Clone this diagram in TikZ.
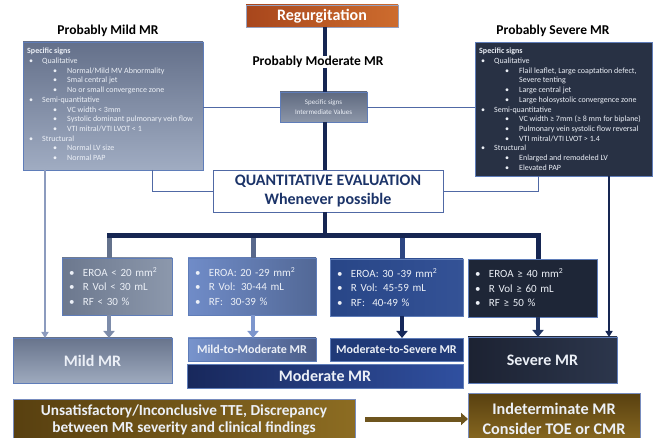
\documentclass[tikz,border=0pt]{standalone}
\usepackage{fontspec}
\setmainfont{Carlito}
\usetikzlibrary{arrows.meta,calc}
\definecolor{navy}{RGB}{22,38,82}
\definecolor{thinln}{RGB}{80,105,165}
\definecolor{bord}{RGB}{95,125,185}
\definecolor{txtw}{RGB}{236,240,247}
\definecolor{qtxt}{RGB}{28,52,105}
\definecolor{sevcol}{RGB}{40,49,68}
\definecolor{dark}{RGB}{30,38,55}
\definecolor{brownA}{RGB}{88,64,16}
\definecolor{brownB}{RGB}{140,108,34}
\newcommand\bulA[1]{\hspace*{2pt}\makebox[13pt][l]{\textbullet}#1}
\newcommand\bulB[1]{\hspace*{26pt}\makebox[14pt][l]{\textbullet}#1}
\newcommand\bulQ[1]{\makebox[14pt][l]{\textbullet}#1}
\begin{document}
\begin{tikzpicture}[x=1pt,y=-1pt,
  box/.style={anchor=north west,inner sep=0pt,outer sep=0pt,draw=bord,line width=0.7pt},
  title/.style={font=\fontsize{13.5}{16}\bfseries\selectfont,text=black,inner sep=0pt},
  signs/.style={anchor=north west,inner sep=0pt,align=left,text=txtw},
  qtext/.style={text=txtw,align=left,font=\fontsize{11}{14.5}\selectfont},
  otext/.style={text=txtw,font=\fontsize{16}{18}\bfseries\selectfont},
  stext/.style={text=txtw,font=\fontsize{12}{14}\bfseries\selectfont},
  mainln/.style={draw=navy,line width=3.5pt},
  thin/.style={draw=thinln,line width=0.9pt},
  drop/.style={line width=5pt},
  blk/.style={line width=4.5pt,-{Triangle[width=11pt,length=7pt]}},
]
\useasboundingbox (0,0) rectangle (656,438);
\clip (0,0) rectangle (656,438);
\fill[white] (0,0) rectangle (656,438);

% top
\node[box,minimum width=152pt,minimum height=22pt,left color={rgb,255:red,168;green,70;blue,28},right color={rgb,255:red,205;green,108;blue,46},draw={rgb,255:red,150;green,160;blue,190},text=white,font=\fontsize{16}{18}\bfseries\selectfont] (reg) at (246,5) {Regurgitation};
\node[title] (mildt) at (108,31) {Probably Mild MR};
\node[title] (sevt) at (553,31) {Probably Severe MR};
\node[title] (modt) at (318,62) {Probably Moderate MR};

% specific sign boxes
\node[box,minimum width=180pt,minimum height=128pt,top color={rgb,255:red,100;green,112;blue,138},bottom color={rgb,255:red,160;green,172;blue,194}] (mild) at (23,42) {};
\node[signs,font=\fontsize{8}{9.7}\selectfont] (mildtxt) at (27,48) {\textbf{Specific signs}\\
\bulA{Qualitative}\\
\bulB{Normal/Mild MV Abnormality}\\
\bulB{Smal central jet}\\
\bulB{No or small convergence zone}\\
\bulA{Semi-quantitative}\\
\bulB{VC width < 3mm}\\
\bulB{Systolic dominant pulmonary vein flow}\\
\bulB{VTI mitral/VTI LVOT < 1}\\
\bulA{Structural}\\
\bulB{Normal LV size}\\
\bulB{Normal PAP}};

\node[box,minimum width=177pt,minimum height=134pt,fill=sevcol] (sev) at (475,42) {};
\node[signs,font=\fontsize{8}{9.7}\selectfont] (sevtxt) at (479,48) {\textbf{Specific signs}\\
\bulA{Qualitative}\\
\bulB{Flail leaflet, Large coaptation defect,}\\
\hspace*{40pt}Severe tenting\\
\bulB{Large central jet}\\
\bulB{Large holosystolic convergence zone}\\
\bulA{Semi-quantitative}\\
\bulB{VC width ≥ 7mm (≥ 8 mm for biplane)}\\
\bulB{Pulmonary vein systolic flow reversal}\\
\bulB{VTI mitral/VTI LVOT > 1.4}\\
\bulA{Structural}\\
\bulB{Enlarged and remodeled LV}\\
\bulB{Elevated PAP}};

\node[box,minimum width=87pt,minimum height=30pt,top color={rgb,255:red,95;green,106;blue,128},bottom color={rgb,255:red,140;green,150;blue,168},text=txtw,align=center,font=\fontsize{7}{9.5}\selectfont] (small) at (280,92) {Specific signs\\Intermediate Values};

\node[box,minimum width=230pt,minimum height=42pt,fill=white,draw=thinln,text=qtxt,align=center,font=\fontsize{16}{18.5}\bfseries\selectfont] (quant) at (213,170) {QUANTITATIVE EVALUATION\\Whenever possible};

% quantitative boxes
\node[box,minimum width=110pt,minimum height=57pt,text width=96pt,left color={rgb,255:red,108;green,120;blue,142},right color={rgb,255:red,140;green,152;blue,172},qtext] (b1) at (62,258) {\bulQ{EROA < 20 mm\textsuperscript{2}}\\\bulQ{R Vol < 30 mL}\\\bulQ{RF < 30 \%}};
\node[box,minimum width=128pt,minimum height=57pt,text width=114pt,left color={rgb,255:red,112;green,140;blue,200},right color={rgb,255:red,82;green,104;blue,150},qtext] (b2) at (188,258) {\bulQ{EROA: 20 -29 mm\textsuperscript{2}}\\\bulQ{R Vol: 30-44 mL}\\\bulQ{RF:\ \ 30-39 \%}};
\node[box,minimum width=133pt,minimum height=57pt,text width=119pt,left color={rgb,255:red,40;green,70;blue,135},right color={rgb,255:red,52;green,82;blue,150},qtext] (b3) at (330,259) {\bulQ{EROA: 30 -39 mm\textsuperscript{2}}\\\bulQ{R Vol: 45-59 mL}\\\bulQ{RF:\ \ 40-49 \%}};
\node[box,minimum width=129pt,minimum height=58pt,text width=115pt,fill=dark,qtext] (b4) at (468,259) {\bulQ{EROA ≥ 40 mm\textsuperscript{2}}\\\bulQ{R Vol ≥ 60 mL}\\\bulQ{RF ≥ 50 \%}};

% outcome boxes
\node[box,minimum width=159pt,minimum height=45pt,top color={rgb,255:red,104;green,116;blue,140},bottom color={rgb,255:red,158;green,170;blue,190},otext] (mildmr) at (13,338) {Mild MR};
\node[box,minimum width=128pt,minimum height=23pt,left color={rgb,255:red,120;green,148;blue,205},right color={rgb,255:red,75;green,92;blue,135},stext] (m2m) at (188,338) {Mild-to-Moderate MR};
\node[box,minimum width=133pt,minimum height=23pt,fill={rgb,255:red,32;green,58;blue,120},stext] (m2s) at (330,338) {Moderate-to-Severe MR};
\node[box,minimum width=276pt,minimum height=24pt,left color={rgb,255:red,24;green,40;blue,92},right color={rgb,255:red,48;green,80;blue,160},otext] (modmr) at (187,364) {Moderate MR};
\node[box,minimum width=149pt,minimum height=46pt,left color={rgb,255:red,28;green,34;blue,50},right color={rgb,255:red,44;green,54;blue,76},otext] (sevmr) at (468,337) {Severe MR};

% bottom
\node[box,minimum width=342pt,minimum height=42pt,left color=brownA,right color=brownB,draw={rgb,255:red,120;green,140;blue,190},text=txtw,align=center,font=\fontsize{15.3}{17}\bfseries\selectfont] (unsat) at (13,399) {Unsatisfactory/Inconclusive TTE, Discrepancy\\between MR severity and clinical findings};
\node[box,minimum width=172pt,minimum height=52pt,top color=brownA,bottom color=brownB,draw={rgb,255:red,120;green,140;blue,190},text=txtw,align=center,font=\fontsize{16.2}{20}\bfseries\selectfont] (indet) at (468,393) {Indeterminate MR\\Consider TOE or CMR};

% connectors top
\coordinate (cx) at (325,0);
\draw[mainln] (reg.south -| cx) -- (modt.north -| cx);
\draw[mainln] (modt.south -| cx) -- (small.north -| cx);
\draw[mainln] (small.south -| cx) -- (quant.north -| cx);
\draw[thin] (small.west) -- (small.west -| mild.east);
\draw[thin] (small.east) -- (small.east -| sev.west);
\coordinate (mc) at (152,170);
\coordinate (sc) at (538,176);
\draw[thin] (mc) |- (quant.west);
\draw[thin] (sc) |- (quant.east);

% bar and drops
\coordinate (barmid) at (325,236);
\draw[mainln] (quant.south -| cx) -- (barmid);
\draw[drop,draw={rgb,255:red,100;green,114;blue,140}] (109,236) -- (b1.north -| 109,0);
\draw[drop,draw={rgb,255:red,88;green,104;blue,140}] (253,236) -- (b2.north -| 253,0);
\draw[drop,draw={rgb,255:red,45;green,70;blue,130}] (402,236) -- (b3.north -| 402,0);
\draw[drop,draw=navy] (538,236) -- (b4.north -| 538,0);
\draw[navy,line width=5pt] (107,236) -- (541,236);

% block arrows
\draw[blk,draw={rgb,255:red,125;green,140;blue,170}] (b1.south -| 109,0) -- (mildmr.north -| 109,0);
\draw[blk,draw={rgb,255:red,125;green,150;blue,205}] (b2.south -| 253,0) -- (m2m.north -| 253,0);
\draw[blk,draw={rgb,255:red,22;green,40;blue,90}] (b3.south -| 402,0) -- (m2s.north -| 402,0);
\draw[blk,draw={rgb,255:red,35;green,55;blue,100}] (b4.south -| 538,0) -- (sevmr.north -| 538,0);

% long arrows
\draw[line width=2.2pt,draw={rgb,255:red,140;green,155;blue,190},-{Triangle[width=7pt,length=6pt]}] (mild.south -| 45,0) -- (mildmr.north -| 45,0);
\draw[line width=2.2pt,draw=navy,-{Triangle[width=7pt,length=6pt]}] (sev.south -| 609,0) -- (sevmr.north -| 609,0);

% bottom arrow
\draw[line width=5pt,draw={rgb,255:red,110;green,85;blue,30},-{Triangle[width=12pt,length=7pt]}] (unsat.east |- 0,419) ++(10,0) -- (indet.west |- 0,419);
\end{tikzpicture}
\end{document}
